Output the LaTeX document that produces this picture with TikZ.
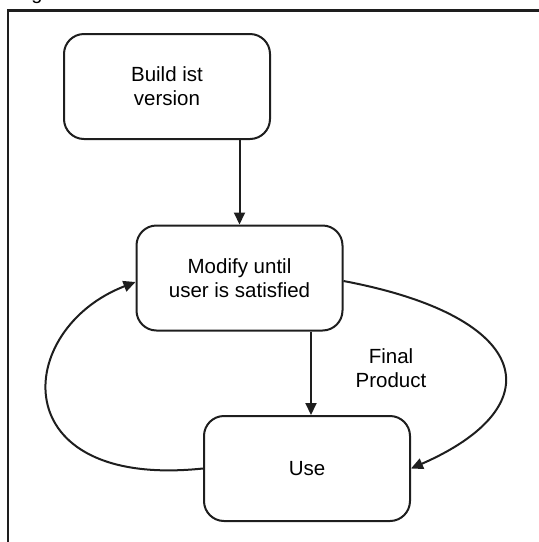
\documentclass[tikz,border=0pt]{standalone}
\usepackage{fontspec}
\setmainfont{Liberation Sans}
\usetikzlibrary{arrows.meta}
\definecolor{ink}{HTML}{1E1E1E}
\begin{document}
\begin{tikzpicture}[x=1pt,y=-1pt,
  box/.style={draw=ink, line width=2pt, rounded corners=20pt,
    minimum width=206pt, minimum height=105pt, align=center,
    font=\fontsize{20.5}{24}\selectfont, inner sep=0pt},
  arr/.style={draw=ink, line width=2pt, -{Triangle[length=12pt,width=11pt]}},
  lbl/.style={align=center, font=\fontsize{20.5}{24}\selectfont},
  frame/.style={draw=ink, line width=2.5pt}]
\useasboundingbox (0,0) rectangle (539,542);
\clip (0,0) rectangle (539,542);
\node[font=\fontsize{20}{24}\selectfont, anchor=base, inner sep=0pt] (cap) at (37,-1) {g};
\draw[frame] (8,560) -- (8,10.5) -- (560,10.5);
\node[box] (build) at (167,86.5) {Build ist\\version};
\node[box] (modify) at (239.5,278) {Modify until\\user is satisfied};
\node[box] (use) at (307,468.5) {Use};
\node[lbl] (final) at (391,368) {Final\\Product};
\draw[arr] (build.south -| modify.north) -- (modify.north);
\draw[arr] ([xshift=4pt]modify.south -| use.north) -- ([xshift=4pt]use.north);
\draw[arr] (use.west) .. controls +(-201,21) and +(-122,47) .. ([yshift=-4pt]modify.west);
\draw[arr] ([yshift=-3pt]modify.east) .. controls +(191,36) and +(142,-62) .. (use.east);
\end{tikzpicture}
\end{document}
